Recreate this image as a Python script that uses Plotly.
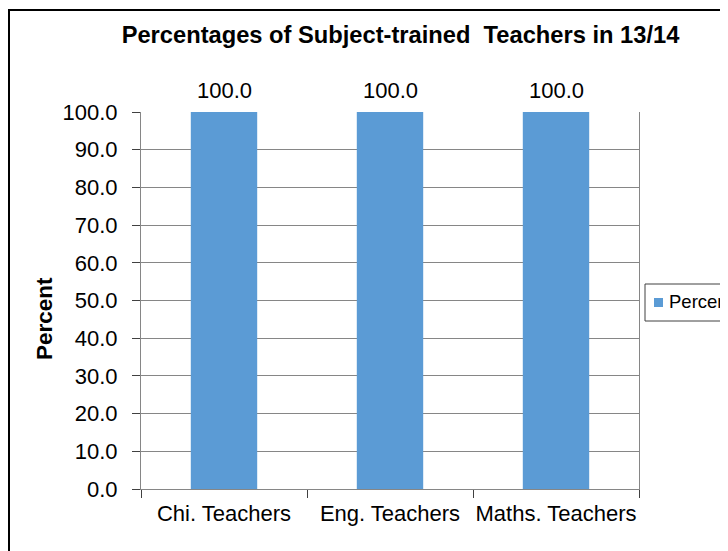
import plotly.graph_objects as go

categories = ["Chi. Teachers", "Eng. Teachers", "Maths. Teachers"]
percent = [100.0, 100.0, 100.0]
series_name = "Percent"
y_title = "Percent"
title_text = "Percentages of Subject-trained  Teachers in 13/14"

FONT = "Liberation Sans, Arial, sans-serif"
OFF = 8  # page body margin offset
W, H = 728 - OFF, 551 - OFF
# desired page coordinates of plot area
PL, PR, PT, PB = 141, 639, 112, 489
L, T = PL - OFF, PT - OFF
R, B = W - (PR - OFF), H - (PB - OFF)
pw, ph = W - L - R, H - T - B

def px(x):  # page x -> paper
    return (x - PL) / pw

def py(y):  # page y -> paper
    return (PB - y) / ph

fig = go.Figure()
fig.add_trace(go.Bar(
    x=categories, y=percent, name=series_name,
    marker=dict(color="#5B9BD5", line=dict(width=0)),
    width=0.4, showlegend=False,
))

for c, v in zip(categories, percent):
    fig.add_annotation(x=c, y=v, text=f"{v:.1f}", showarrow=False,
                       yanchor="bottom", yshift=7,
                       font=dict(family=FONT, size=22, color="#000000"))

# outer chart frame
fig.add_shape(type="rect", xref="paper", yref="paper",
              x0=px(9), x1=px(780), y0=py(600), y1=py(10),
              line=dict(color="#000000", width=2), fillcolor="rgba(0,0,0,0)",
              layer="below")

# y-axis title
fig.add_annotation(xref="paper", yref="paper", x=px(44), y=py(319),
                   xanchor="center", yanchor="middle", showarrow=False,
                   textangle=-90, text="<b>" + y_title + "</b>",
                   font=dict(family=FONT, size=22.5, color="#000000"))

# legend box (drawn manually to match the reference's compact layout)
fig.add_shape(type="rect", xref="paper", yref="paper",
              x0=px(645), x1=px(800), y0=py(321), y1=py(284),
              line=dict(color="#404040", width=1), fillcolor="white")
fig.add_shape(type="rect", xref="paper", yref="paper",
              x0=px(654), x1=px(663), y0=py(307), y1=py(298),
              line=dict(width=0), fillcolor="#5B9BD5")
fig.add_annotation(xref="paper", yref="paper", x=px(667), y=py(301.5),
                   xanchor="left", yanchor="middle", showarrow=False,
                   text=series_name,
                   font=dict(family=FONT, size=18.5, color="#000000"))

fig.update_layout(
    width=W, height=H,
    margin=dict(l=L, r=R, t=T, b=B, autoexpand=False),
    paper_bgcolor="white", plot_bgcolor="white",
    showlegend=False,
    title=dict(text="<b>" + title_text + "</b>", xref="paper", x=px(400.5),
               xanchor="center", y=1 - (35 - OFF) / H, yanchor="middle",
               font=dict(family=FONT, size=23.7, color="#000000")),
    font=dict(family=FONT, color="#000000"),
    xaxis=dict(
        type="category", tickson="boundaries", ticks="outside", ticklen=8,
        tickcolor="#404040", showline=True, linecolor="#868686", linewidth=1,
        mirror=False, showgrid=False, ticklabelstandoff=5, tickangle=0,
        tickfont=dict(family=FONT, size=22, color="#000000"),
    ),
    yaxis=dict(
        range=[0, 100], dtick=10, tickformat=".1f", ticks="outside", ticklen=8,
        tickcolor="#404040", showline=True, linecolor="#868686", linewidth=1,
        mirror=True, showgrid=True, gridcolor="#868686", gridwidth=1,
        zeroline=False, ticklabelstandoff=10,
        tickfont=dict(family=FONT, size=22, color="#000000"),
    ),
)

fig.write_html("out.html")
